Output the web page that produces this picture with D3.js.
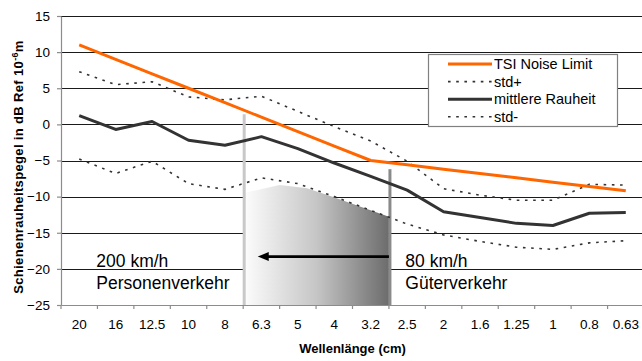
<!DOCTYPE html>
<html lang="de">
<head>
    <meta charset="UTF-8">
    <title>Schienenrauheit vs. TSI Noise Limit</title>
    <style>
        body { margin: 0; background: #fff; }
        text { font-family: "Liberation Sans", Arial, sans-serif; fill: #000; }
        .grid line { stroke: #1a1a1a; stroke-width: 1; shape-rendering: crispEdges; }
        .axis path, .axis line { stroke: #8c8c8c; stroke-width: 1.2; }
        .axis text { font-size: 13.5px; }
        .series { fill: none; stroke-linejoin: round; }
        .legend-box { fill: #fff; stroke: #808080; stroke-width: 1.2; }
        .legend text { font-size: 14.5px; }
        .note { font-size: 17.5px; }
        .title { font-size: 13px; font-weight: bold; }
    </style>
</head>
<body>
<div id="chart"></div>
<script src="https://d3js.org/d3.v7.min.js"></script>
<script>
    // Wellenlänge (cm), von lang nach kurz
    const categories = ["20", "16", "12.5", "10", "8", "6.3", "5", "4", "3.2", "2.5", "2", "1.6", "1.25", "1", "0.8", "0.63"];
    const tsiLimit = [11, 9, 7, 5, 3, 1, -1, -3, -5, -5.6, -6.2, -6.8, -7.4, -8, -8.6, -9.2];
    const stdPlus = [7.3, 5.5, 5.9, 3.8, 3.4, 3.9, 1.8, -0.3, -2.3, -5.1, -8.9, -9.8, -10.5, -10.5, -8.3, -8.4];
    const meanRough = [1.2, -0.7, 0.4, -2.2, -2.9, -1.7, -3.35, -5.35, -7.2, -9.1, -12.1, -12.9, -13.7, -14.0, -12.3, -12.2];
    const stdMinus = [-4.8, -6.8, -5.1, -8.2, -9.0, -7.4, -8.2, -10.0, -11.9, -13.8, -15.3, -16.2, -17.0, -17.3, -16.4, -16.1];
    const yTicks = [15, 10, 5, 0, -5, -10, -15, -20, -25];

    // grey wedge between the two speed markers (position in band units, value in dB)
    const wedgePos = [5, 6, 6.75, 7.45, 9];
    const wedgeTop = [-9.5, -8.4, -8.85, -10.0, -12.8];
    // vertical markers: band boundary, top value
    const markerPos = [5, 9];
    const markerTop = [1.4, -6.2];
    const markerColor = ["#c8c8c8", "#8a8a8a"];
    // arrow from 80 km/h to 200 km/h
    const arrowFrom = 9, arrowTo = 5.4, arrowValue = -18.3;

    const width = 642, height = 361;
    const margin = { top: 16, left: 61 };
    const plotW = 583, plotH = 289;

    const svg = d3.select("#chart").append("svg")
        .attr("width", width)
        .attr("height", height);

    const x = d3.scaleBand().domain(categories).range([margin.left, margin.left + plotW]).padding(0);
    const y = d3.scaleLinear().domain([-25, 15]).range([margin.top + plotH, margin.top]);
    const pos = p => x.range()[0] + p * x.step();
    const cx = i => x(categories[i]) + x.bandwidth() / 2;

    const defs = svg.append("defs");
    const grad = defs.append("linearGradient")
        .attr("id", "wedgeGrad")
        .attr("gradientUnits", "userSpaceOnUse")
        .attr("x1", pos(wedgePos[0])).attr("x2", pos(wedgePos[wedgePos.length - 1]))
        .attr("y1", 0).attr("y2", 0);
    grad.append("stop").attr("offset", 0).attr("stop-color", "#fdfdfd");
    grad.append("stop").attr("offset", 0.5).attr("stop-color", "#c6c6c6");
    grad.append("stop").attr("offset", 1).attr("stop-color", "#6c6c6c");

    // grid
    svg.append("g").attr("class", "grid")
        .selectAll("line")
        .data(yTicks.filter(v => v > -25))
        .enter().append("line")
        .attr("x1", margin.left).attr("x2", margin.left + plotW)
        .attr("y1", d => Math.round(y(d)) + 0.5).attr("y2", d => Math.round(y(d)) + 0.5);

    // wedge
    const wedgePts = wedgePos.map((p, i) => [pos(p), y(wedgeTop[i])]);
    wedgePts.push([pos(wedgePos[wedgePos.length - 1]), y(-25)]);
    wedgePts.push([pos(wedgePos[0]), y(-25)]);
    svg.append("polygon")
        .attr("points", wedgePts.map(p => p.join(",")).join(" "))
        .attr("fill", "url(#wedgeGrad)");

    // vertical markers
    svg.selectAll(".marker")
        .data(markerPos)
        .enter().append("line")
        .attr("class", "marker")
        .attr("x1", d => pos(d) + 1).attr("x2", d => pos(d) + 1)
        .attr("y1", (d, i) => y(markerTop[i])).attr("y2", y(-25))
        .attr("stroke", (d, i) => markerColor[i])
        .attr("stroke-width", 3);

    // arrow
    const ay = y(arrowValue);
    svg.append("line")
        .attr("x1", pos(arrowFrom)).attr("x2", pos(arrowTo) + 9)
        .attr("y1", ay).attr("y2", ay)
        .attr("stroke", "#000").attr("stroke-width", 2.8);
    svg.append("path")
        .attr("d", `M${pos(arrowTo)},${ay} L${pos(arrowTo) + 11},${ay - 4.5} L${pos(arrowTo) + 11},${ay + 4.5} Z`)
        .attr("fill", "#000");

    // annotations
    const notes = [
        { p: 0.97, v: -19.7, t: "200 km/h" },
        { p: 0.97, v: -22.8, t: "Personenverkehr" },
        { p: 9.45, v: -19.7, t: "80 km/h" },
        { p: 9.45, v: -22.8, t: "Güterverkehr" }
    ];
    svg.selectAll(".note")
        .data(notes)
        .enter().append("text")
        .attr("class", "note")
        .attr("x", d => pos(d.p))
        .attr("y", d => y(d.v))
        .text(d => d.t);

    // series
    const line = d3.line().x((d, i) => cx(i)).y(d => y(d));
    const series = [
        { name: "std+", values: stdPlus, color: "#333", width: 1.6, dash: "2.6,5.6" },
        { name: "std-", values: stdMinus, color: "#333", width: 1.6, dash: "2.6,5.6" },
        { name: "mittlere Rauheit", values: meanRough, color: "#333333", width: 3, dash: null },
        { name: "TSI Noise Limit", values: tsiLimit, color: "#ff6600", width: 3, dash: null }
    ];
    svg.selectAll(".series")
        .data(series)
        .enter().append("path")
        .attr("class", "series")
        .attr("d", d => line(d.values))
        .attr("stroke", d => d.color)
        .attr("stroke-width", d => d.width)
        .attr("stroke-dasharray", d => d.dash);

    // axes
    svg.append("g").attr("class", "axis")
        .attr("transform", `translate(${margin.left},0)`)
        .call(d3.axisLeft(y).tickValues(yTicks).tickSizeInner(4).tickSizeOuter(0).tickPadding(7));

    svg.append("g").attr("class", "axis")
        .attr("transform", `translate(0,${y(-25)})`)
        .call(d3.axisBottom(x).tickSize(0).tickPadding(14));

    // tick marks sit on the category boundaries
    svg.append("g").attr("class", "axis")
        .selectAll("line")
        .data(d3.range(categories.length + 1))
        .enter().append("line")
        .attr("x1", d => pos(d)).attr("x2", d => pos(d))
        .attr("y1", y(-25)).attr("y2", y(-25) + 4);

    // axis titles
    svg.append("text")
        .attr("class", "title")
        .attr("x", margin.left + plotW / 2)
        .attr("y", 353)
        .attr("text-anchor", "middle")
        .text("Wellenlänge (cm)");

    const yt = svg.append("text")
        .attr("class", "title")
        .attr("transform", "translate(23,167) rotate(-90)")
        .attr("text-anchor", "middle")
        .style("letter-spacing", "0.35px");
    yt.append("tspan").text("Schienenrauheitspegel in dB Ref 10");
    yt.append("tspan").attr("dy", -5).style("font-size", "9px").text("-6");
    yt.append("tspan").attr("dy", 5).text("m");

    // legend
    const legend = svg.append("g").attr("class", "legend");
    legend.append("rect").attr("class", "legend-box")
        .attr("x", 428.5).attr("y", 54.5).attr("width", 189).attr("height", 72);
    const legendOrder = [series[3], series[0], series[2], series[1]];
    const row = legend.selectAll(".row")
        .data(legendOrder)
        .enter().append("g")
        .attr("class", "row")
        .attr("transform", (d, i) => `translate(0,${64 + i * 17.6})`);
    row.append("line")
        .attr("x1", 448).attr("x2", 492)
        .attr("stroke", d => d.color)
        .attr("stroke-width", d => d.width)
        .attr("stroke-dasharray", d => d.dash);
    row.append("text")
        .attr("x", 494)
        .attr("dy", "0.36em")
        .text(d => d.name);
</script>
</body>
</html>
